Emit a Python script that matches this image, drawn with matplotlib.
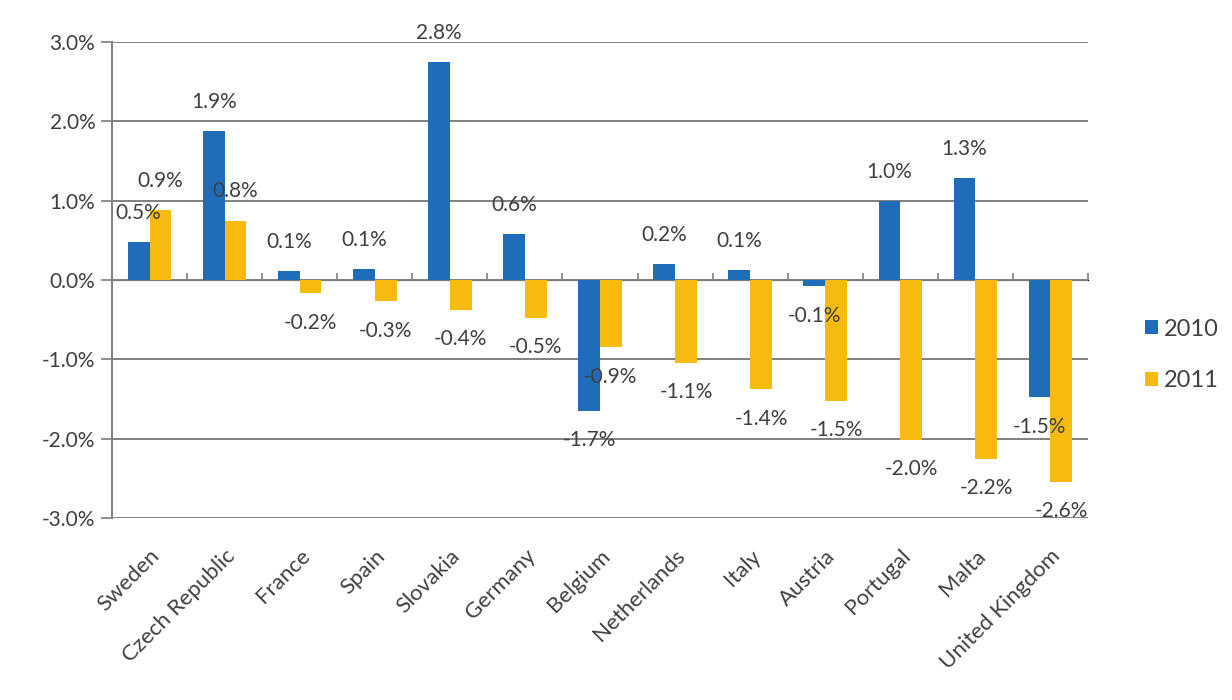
import matplotlib
matplotlib.use("Agg")
import matplotlib.pyplot as plt
import numpy as np

countries = ["Sweden", "Czech Republic", "France", "Spain", "Slovakia", "Germany",
             "Belgium", "Netherlands", "Italy", "Austria", "Portugal", "Malta",
             "United Kingdom"]
v2010 = [0.48, 1.88, 0.11, 0.14, 2.75, 0.58, -1.65, 0.20, 0.12, -0.08, 1.00, 1.28, -1.48]
v2011 = [0.88, 0.75, -0.17, -0.27, -0.38, -0.48, -0.85, -1.05, -1.38, -1.52, -2.02, -2.25, -2.55]
lab2010 = ["0.5%", "1.9%", "0.1%", "0.1%", "2.8%", "0.6%", "-1.7%", "0.2%", "0.1%", "-0.1%", "1.0%", "1.3%", "-1.5%"]
lab2011 = ["0.9%", "0.8%", "-0.2%", "-0.3%", "-0.4%", "-0.5%", "-0.9%", "-1.1%", "-1.4%", "-1.5%", "-2.0%", "-2.2%", "-2.6%"]
yticks = [-3, -2, -1, 0, 1, 2, 3]
ytick_labels = ["-3.0%", "-2.0%", "-1.0%", "0.0%", "1.0%", "2.0%", "3.0%"]

plt.rcParams['font.family'] = ['Lato', 'DejaVu Sans']
blue = "#1f6cb8"
yellow = "#f6bb0e"
grid_c = "#808080"
text_c = "#404040"
fs = 15

fig = plt.figure(figsize=(12.32, 7.0), dpi=100)
ax = fig.add_axes([112/1232, 1-518/700, (1088-112)/1232, (518-42)/700])

x = np.arange(len(countries))
w = 0.29
b1 = ax.bar(x - w/2, v2010, w, color=blue, label="2010", zorder=3)
b2 = ax.bar(x + w/2, v2011, w, color=yellow, label="2011", zorder=3)

ax.set_xlim(-0.5, len(countries) - 0.5)
ax.set_ylim(-3, 3)
ax.set_yticks(yticks)
ax.set_yticklabels(ytick_labels, fontsize=fs, color=text_c)
ax.yaxis.grid(True, color=grid_c, linewidth=1.4, zorder=0)
ax.tick_params(axis='y', length=8, color=grid_c, width=1.2, pad=4)

for s in ["top", "right", "bottom"]:
    ax.spines[s].set_visible(False)
ax.spines["left"].set_color(grid_c)
ax.spines["left"].set_linewidth(1.4)

ax.set_xticks(x)
ax.set_xticklabels(countries, rotation=45, ha='right', rotation_mode='anchor',
                   fontsize=16, color=text_c)
ax.tick_params(axis='x', length=0, pad=20)

sec = ax.secondary_xaxis(0.5)
sec.set_xticks(np.arange(len(countries) + 1) - 0.5)
sec.set_xticklabels([])
sec.tick_params(axis='x', length=5, direction='out', color=grid_c, width=1.2)
sec.spines['bottom'].set_color(grid_c)
sec.spines['bottom'].set_linewidth(1.4)

for bars, labs in ((b1, lab2010), (b2, lab2011)):
    for rect, lab in zip(bars, labs):
        h = rect.get_height()
        cx = rect.get_x() + rect.get_width() / 2
        off = 21 if h >= 0 else -21
        ax.annotate(lab, (cx, h), xytext=(0, off), textcoords='offset points',
                    ha='center', va='center', fontsize=fs, color=text_c,
                    zorder=5, annotation_clip=False)

fig.legend(handles=[b1, b2], labels=["2010", "2011"], loc='center left',
           bbox_to_anchor=(1124/1232, 1-355/700), frameon=False, fontsize=17,
           handlelength=0.55, handleheight=0.55, handletextpad=0.25, labelspacing=1.3,
           labelcolor=text_c)

fig.savefig("out.png", dpi=100)
